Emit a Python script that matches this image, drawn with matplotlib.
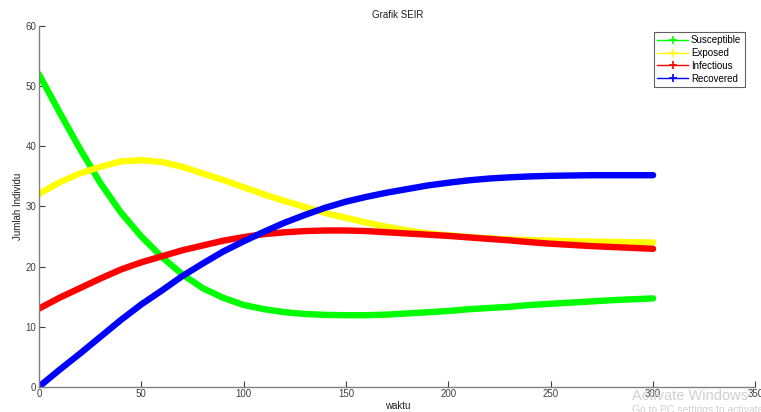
import matplotlib
matplotlib.use("Agg")
import matplotlib.pyplot as plt
from matplotlib.lines import Line2D

plt.rcParams['font.family'] = ['Liberation Sans', 'DejaVu Sans']

# model output sampled every 10 time units
t = list(range(0, 301, 10))
susceptible = [52.0, 45.7, 39.6, 33.9, 29.0, 25.0, 21.6, 18.7, 16.4, 14.8,
               13.6, 12.9, 12.4, 12.1, 11.95, 11.9, 11.9, 12.0, 12.2, 12.4,
               12.6, 12.9, 13.1, 13.3, 13.6, 13.8, 14.0, 14.2, 14.4, 14.55, 14.7]
exposed = [32.1, 34.0, 35.5, 36.6, 37.5, 37.7, 37.4, 36.6, 35.5, 34.4,
           33.2, 32.0, 30.9, 29.9, 28.9, 28.1, 27.3, 26.6, 26.0, 25.5,
           25.2, 24.9, 24.7, 24.5, 24.4, 24.3, 24.2, 24.15, 24.1, 24.05, 24.0]
infectious = [13.0, 14.8, 16.4, 18.0, 19.5, 20.7, 21.7, 22.7, 23.5, 24.3,
              24.9, 25.4, 25.7, 25.9, 26.0, 26.0, 25.9, 25.7, 25.5, 25.3,
              25.1, 24.85, 24.6, 24.35, 24.05, 23.8, 23.6, 23.4, 23.25, 23.1, 22.95]
recovered = [0.0, 2.8, 5.5, 8.3, 11.1, 13.7, 16.0, 18.4, 20.5, 22.5,
             24.2, 25.8, 27.3, 28.6, 29.8, 30.8, 31.6, 32.3, 32.9, 33.5,
             33.95, 34.35, 34.65, 34.85, 35.0, 35.1, 35.15, 35.2, 35.2, 35.2, 35.2]

names = ['Susceptible', 'Exposed', 'Infectious', 'Recovered']
colors = ['#00ff00', '#ffff00', '#ff0000', '#0000ff']

fig = plt.figure(figsize=(7.61, 4.12), dpi=100)
ax = fig.add_axes([0.0512, 0.0614, 0.9415, 0.875])

for y, c in zip([susceptible, exposed, infectious, recovered], colors):
    ax.plot(t, y, color=c, lw=4.6, solid_capstyle='round',
            solid_joinstyle='round')

ax.set_xlim(0, 350)
ax.set_ylim(0, 60)
ax.set_xticks(range(0, 351, 50))
ax.set_yticks(range(0, 61, 10))
ax.tick_params(direction='in', length=4, width=0.8, labelsize=7,
               colors='#404040', pad=2)
for s in ['top', 'right']:
    ax.spines[s].set_visible(False)
for s in ['left', 'bottom']:
    ax.spines[s].set_color('#808080')
    ax.spines[s].set_linewidth(1.0)

ax.set_title('Grafik SEIR', fontsize=7, color='#202020', pad=6)
ax.set_xlabel('waktu', fontsize=7, color='#202020', labelpad=1)
ax.set_ylabel('Jumlah Individu', fontsize=7, color='#202020', labelpad=2)

handles = [Line2D([], [], color=c, lw=1, marker='+', ms=6, mew=1.2)
           for c in colors]
leg = ax.legend(handles, names, loc='upper right',
                bbox_to_anchor=(0.985, 0.984), borderaxespad=0,
                fontsize=7, fancybox=False, framealpha=1,
                edgecolor='#606060', handlelength=3.2, handletextpad=0.3,
                labelspacing=0.28, borderpad=0.35)
leg.get_frame().set_linewidth(0.8)

fig.text(0.83, 0.028, 'Activate Windows', fontsize=10.5, color='#d0d0d0')
fig.text(0.83, -0.003, 'Go to PC settings to activate', fontsize=7.5,
         color='#d0d0d0')

fig.savefig('out.png', dpi=100)
